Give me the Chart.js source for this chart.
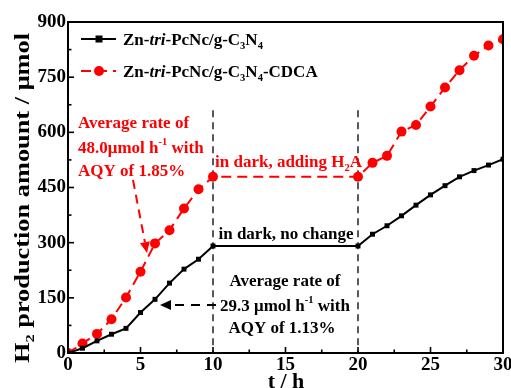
<!DOCTYPE html>
<html><head><meta charset="utf-8">
<script src="https://cdn.jsdelivr.net/npm/chart.js@4/dist/chart.umd.min.js"></script>
<style>html,body{margin:0;padding:0;background:#fff;overflow:hidden;width:511px;height:388px}canvas{display:block}</style>
</head><body>
<canvas id="c" width="511" height="388"></canvas>
<script>
// ---- data ----
const hours = [0,1,2,3,4,5,6,7,8,9,10,20,21,22,23,24,25,26,27,28,29,30];
const plainH2 = [0,13,33,51,67,110,146,190,228,255,291,291,323,346,373,402,430,455,479,496,511,527];
const cdcaH2  = [0,26,52,92,151,221,298,334,393,445,479,479,517,536,602,620,670,722,769,808,836,853];
const seriesNames = ['Zn-tri-PcNc/g-C3N4','Zn-tri-PcNc/g-C3N4-CDCA'];
const xTicks = [0,5,10,15,20,25,30];
const yTicks = [0,150,300,450,600,750,900];
const darkBounds = [10,20];      // hours where the dark period starts / ends
const darkLineTop = 660;         // top of the dashed marker lines (µmol)

const FONT = '"Liberation Serif","Times New Roman",serif';

function richWidth(ctx, parts, size){
  let w=0;
  parts.forEach(p=>{
    const k=p[1]||''; const s=(k==='sub'||k==='sup')?size*0.62:size;
    ctx.font=(k==='i'?'italic ':'')+'bold '+s+'px '+FONT;
    w+=ctx.measureText(p[0]).width;
  });
  return w;
}
function drawRich(ctx, parts, x, yc, size, color, align){
  ctx.save();
  ctx.fillStyle=color; ctx.textBaseline='alphabetic'; ctx.textAlign='left';
  const w=richWidth(ctx,parts,size);
  let cx = align==='center'? x-w/2 : x;
  const base = yc + size*0.33;
  parts.forEach(p=>{
    const k=p[1]||''; const s=(k==='sub'||k==='sup')?size*0.62:size;
    ctx.font=(k==='i'?'italic ':'')+'bold '+s+'px '+FONT;
    let dy=0; if(k==='sub') dy=size*0.25; if(k==='sup') dy=-size*0.42;
    ctx.fillText(p[0],cx,base+dy);
    cx+=ctx.measureText(p[0]).width;
  });
  ctx.restore();
}
function arrow(ctx, x1,y1,x2,y2,color,dash){
  ctx.save();
  ctx.strokeStyle=color; ctx.fillStyle=color; ctx.lineWidth=2; ctx.setLineDash(dash);
  const a=Math.atan2(y2-y1,x2-x1); const L=11, W=5;
  const bx=x2-L*Math.cos(a), by=y2-L*Math.sin(a);
  ctx.beginPath(); ctx.moveTo(x1,y1); ctx.lineTo(bx,by); ctx.stroke();
  ctx.setLineDash([]);
  ctx.beginPath(); ctx.moveTo(x2,y2);
  ctx.lineTo(bx+W*Math.sin(a), by-W*Math.cos(a));
  ctx.lineTo(bx-W*Math.sin(a), by+W*Math.cos(a));
  ctx.closePath(); ctx.fill();
  ctx.restore();
}

const annot = {
  id:'annot',
  beforeDatasetsDraw(chart){
    const {ctx, scales:{x,y}} = chart;
    ctx.save(); ctx.strokeStyle='#000'; ctx.lineWidth=1.3; ctx.setLineDash([7,5]);
    darkBounds.forEach(t=>{
      const px=x.getPixelForValue(t);
      ctx.beginPath(); ctx.moveTo(px,y.getPixelForValue(darkLineTop)); ctx.lineTo(px,y.bottom); ctx.stroke();
    });
    ctx.restore();
  },
  afterDraw(chart){
    const {ctx, chartArea:a, scales:{x,y}} = chart;
    ctx.save();
    // frame
    ctx.strokeStyle='#000'; ctx.lineWidth=2;
    ctx.strokeRect(a.left,a.top,a.right-a.left,a.bottom-a.top);
    // inward ticks
    ctx.lineWidth=1.6;
    for(let v=0; v<=30; v+=2.5){
      const px=x.getPixelForValue(v), len=(v%5===0)?6:3.5;
      ctx.beginPath(); ctx.moveTo(px,a.bottom); ctx.lineTo(px,a.bottom-len); ctx.stroke();
    }
    for(let v=0; v<=900; v+=75){
      const py=y.getPixelForValue(v), len=(v%150===0)?6:3.5;
      ctx.beginPath(); ctx.moveTo(a.left,py); ctx.lineTo(a.left+len,py); ctx.stroke();
    }
    ctx.restore();

    // legend
    const ds=chart.data.datasets;
    [[39,0],[71,1]].forEach(([ly,i])=>{
      const d=ds[i];
      ctx.save();
      ctx.strokeStyle=d.borderColor; ctx.lineWidth=2; ctx.setLineDash(d.borderDash||[]);
      ctx.beginPath(); ctx.moveTo(81,ly); ctx.lineTo(116,ly); ctx.stroke();
      ctx.setLineDash([]); ctx.fillStyle=d.backgroundColor;
      if(i===0){ ctx.fillRect(95.5,ly-3.5,7,7); }
      else { ctx.beginPath(); ctx.arc(99,ly,5,0,Math.PI*2); ctx.fill(); }
      ctx.restore();
      const parts=[['Zn-'],['tri','i'],['-PcNc/g-C'],['3','sub'],['N'],['4','sub']];
      if(i===1) parts.push(['-CDCA']);
      drawRich(ctx,parts,123,ly,17,'#000','left');
    });

    // red annotations
    const R='#ff0000';
    drawRich(ctx,[['Average rate of']],78,122,17,R,'left');
    drawRich(ctx,[['48.0μmol h'],['-1','sup'],[' with']],78,147,17,R,'left');
    drawRich(ctx,[['AQY of 1.85%']],78,170,17,R,'left');
    drawRich(ctx,[['in dark, adding H'],['2','sub'],['A']],215,161,17,R,'left');
    arrow(ctx,133,180,147,253,R,[9,6]);

    // black annotations
    drawRich(ctx,[['in dark, no change']],286,233,17,'#000','center');
    drawRich(ctx,[['Average rate of']],285,280,17,'#000','center');
    drawRich(ctx,[['29.3 μmol h'],['-1','sup'],[' with']],285,305,17,'#000','center');
    drawRich(ctx,[['AQY of 1.13%']],282,327,17,'#000','center');
    arrow(ctx,216,305,160,305,'#000',[9,7]);

    // axis titles
    drawRich(ctx,[['t / h']],286,381,22,'#000','center');
    ctx.save();
    ctx.translate(22,198); ctx.rotate(-Math.PI/2);
    const yparts=[['H'],['2','sub'],[' production amount / μmol']];
    const w=richWidth(ctx,yparts,20);
    ctx.scale(330/w,1);
    drawRich(ctx,yparts,0,0,20,'#000','center');
    ctx.restore();
  }
};

const tickFont={family:FONT, weight:'bold', size:19};
new Chart(document.getElementById('c'),{
  type:'line',
  data:{datasets:[
    {label:seriesNames[0], data:hours.map((t,i)=>({x:t,y:plainH2[i]})),
     borderColor:'#000', backgroundColor:'#000', borderWidth:2, pointStyle:'rect', pointRadius:3.5, pointBorderWidth:0, tension:0},
    {label:seriesNames[1], data:hours.map((t,i)=>({x:t,y:cdcaH2[i]})),
     borderColor:'#ff0000', backgroundColor:'#ff0000', borderWidth:2, borderDash:[10,6], pointStyle:'circle', pointRadius:5, pointBorderWidth:0, tension:0}
  ]},
  options:{
    responsive:false, animation:false, devicePixelRatio:1,
    layout:{padding:{top:22,right:8,left:0,bottom:0}},
    plugins:{legend:{display:false}, tooltip:{enabled:false}},
    scales:{
      x:{type:'linear', min:0, max:30,
         afterBuildTicks(s){ s.ticks = xTicks.map(v=>({value:v})); },
         ticks:{font:tickFont, color:'#000', padding:1, maxRotation:0, autoSkip:false},
         grid:{display:false, drawTicks:false}, border:{display:false},
         afterFit(s){ s.height=35; s.paddingLeft=0; s.paddingRight=0; }},
      y:{type:'linear', min:0, max:900,
         afterBuildTicks(s){ s.ticks = yTicks.map(v=>({value:v})); },
         ticks:{font:tickFont, color:'#000', padding:2, autoSkip:false},
         grid:{display:false, drawTicks:false}, border:{display:false},
         afterFit(s){ s.width=68; s.paddingTop=0; s.paddingBottom=0; }}
    }
  },
  plugins:[annot]
});
</script>
</body></html>
